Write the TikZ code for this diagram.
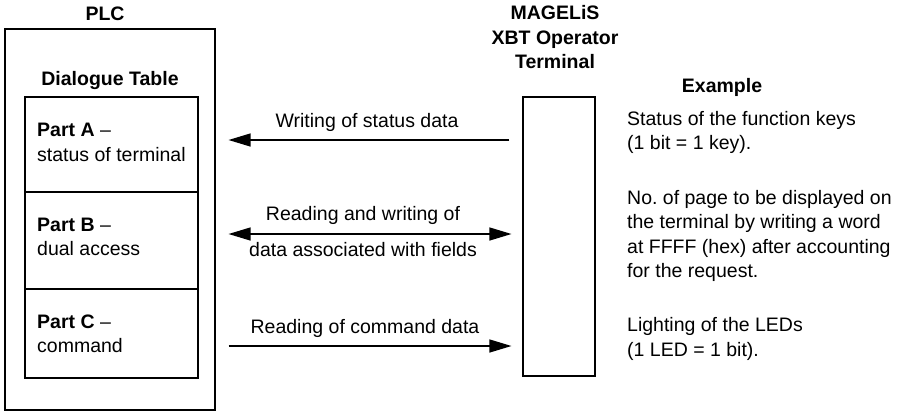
\documentclass[tikz,border=0pt]{standalone}
\usepackage{fontspec}
\setmainfont{Liberation Sans}
\frenchspacing
\usetikzlibrary{positioning,arrows.meta}
\tikzset{
  dtbox/.style={draw, line width=1.1pt, inner sep=0pt},
  dttext/.style={font=\fontsize{19.5}{24.5}\selectfont, align=left, inner sep=0pt},
  dthead/.style={font=\fontsize{19.5}{24.5}\selectfont\bfseries, align=center, inner sep=0pt},
  dttip/.style={Triangle[length=22pt,width=13pt]},
  dtarrow/.style={-{Triangle[length=22pt,width=13pt]}, line width=1.2pt},
}

\begin{document}
\begin{tikzpicture}[x=1pt,y=-1pt]
  \useasboundingbox (0,0) rectangle (897,413);
  % PLC side
  \node[dtbox, minimum width=210pt, minimum height=381pt] (plc) at (110,219.5) {};
  \node[dthead] (plclabel) at (105,14) {PLC};
  \node[dthead] (dtlabel) at (110,80) {Dialogue Table};
  \node[dtbox, minimum width=173pt, minimum height=95pt] (partA) at (111.5,144.5) {};
  \node[dtbox, minimum width=173pt, minimum height=97pt] (partB) at (111.5,240.5) {};
  \node[dtbox, minimum width=173pt, minimum height=89pt] (partC) at (111.5,333.5) {};
  \node[dttext, anchor=west] (textA) at (37,142.5) {\textbf{Part A} --\\status of terminal};
  \node[dttext, anchor=west] (textB) at (37,237) {\textbf{Part B} --\\dual access};
  \node[dttext, anchor=west] (textC) at (37,334) {\textbf{Part C} --\\command};
  % terminal side
  \node[dtbox, minimum width=72pt, minimum height=279pt] (term) at (559,236.5) {};
  \node[dthead] (termlabel) at (555,37.5) {MAGELiS\\XBT Operator\\Terminal};
  \node[dthead] (exlabel) at (722,87) {Example};
  \node[dttext, anchor=west] (exA) at (627,132.5) {Status of the function keys\\(1 bit = 1 key).};
  \node[dttext, anchor=west] (exB) at (627,236) {No. of page to be displayed on\\the terminal by writing a word\\at FFFF (hex) after accounting\\for the request.};
  \node[dttext, anchor=west] (exC) at (627,339) {Lighting of the LEDs\\(1 LED = 1 bit).};
  % data flows
  \coordinate (rowA) at (0,140);
  \coordinate (rowB) at (0,234);
  \coordinate (rowC) at (0,346);
  \draw[dtarrow] ([xshift=-13pt]term.west |- rowA) -- ([xshift=13pt]plc.east |- rowA);
  \draw[dtarrow, {Triangle[length=22pt,width=13pt]}-{Triangle[length=22pt,width=13pt]}]
    ([xshift=13pt]plc.east |- rowB) -- ([xshift=-11pt]term.west |- rowB);
  \draw[dtarrow] ([xshift=13pt]plc.east |- rowC) -- ([xshift=-11pt]term.west |- rowC);
  \node[dttext] (flowA) at (367,122) {Writing of status data};
  \node[dttext] (flowB1) at (363,215) {Reading and writing of};
  \node[dttext] (flowB2) at (363,250) {data associated with fields};
  \node[dttext] (flowC) at (365,328) {Reading of command data};
\end{tikzpicture}
\end{document}
